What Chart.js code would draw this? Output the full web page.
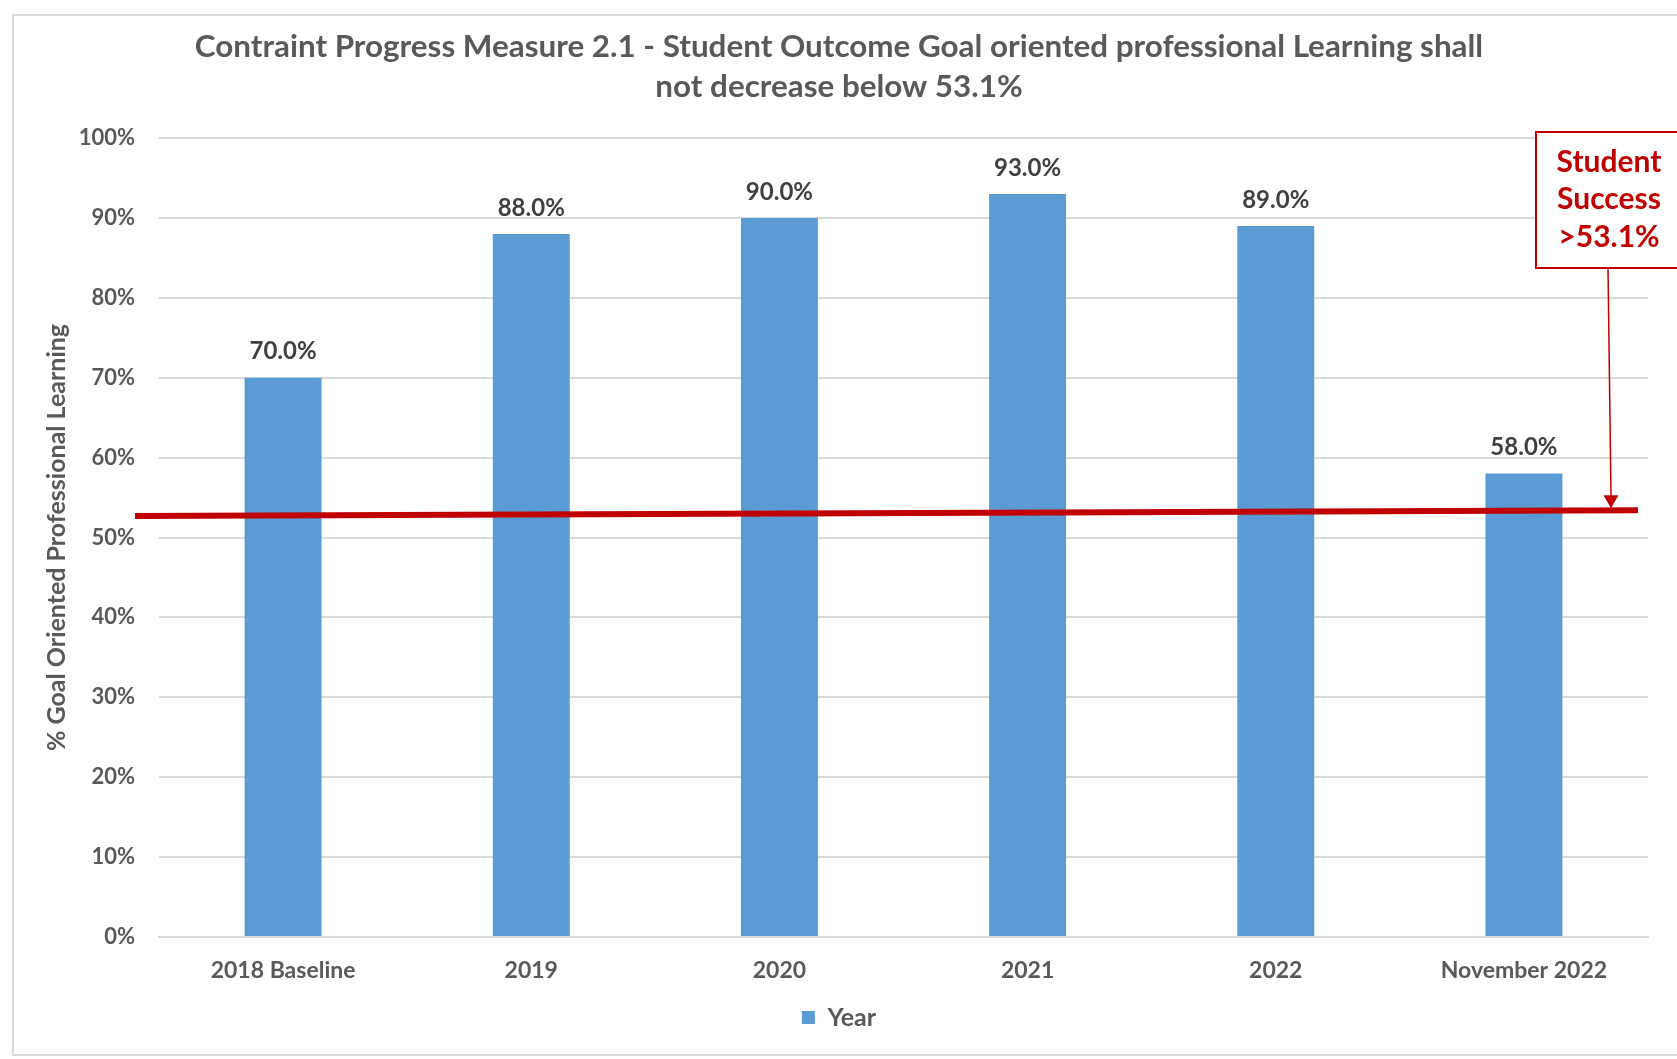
<!DOCTYPE html>
<html>
<head>
<meta charset="utf-8">
<script src="https://cdn.jsdelivr.net/npm/chart.js@4.4.1/dist/chart.umd.min.js"></script>
<style>
  html, body { margin: 0; padding: 0; background: #fff; }
  canvas { display: block; }
</style>
</head>
<body>
<canvas id="chart" width="1677" height="1059"></canvas>
<script>
const categories = ["2018 Baseline", "2019", "2020", "2021", "2022", "November 2022"];
const values = [70.0, 88.0, 90.0, 93.0, 89.0, 58.0];
const yTickValues = [0, 10, 20, 30, 40, 50, 60, 70, 80, 90, 100];
// the red target line is drawn slightly sloped in the original
const thresholdStart = 52.7;
const thresholdEnd = 53.4;
const calloutLines = ["Student", "Success", ">53.1%"];

const FONT = "Lato, 'Open Sans', sans-serif";
const GRAY = "#595959";
const RED = "#C00000";
const BLUE = "#5B9BD5";

const framePlugin = {
  id: "frame",
  beforeDraw(chart) {
    const ctx = chart.ctx;
    ctx.save();
    ctx.fillStyle = "#fff";
    ctx.fillRect(0, 0, chart.width, chart.height);
    ctx.strokeStyle = "#d9d9d9";
    ctx.lineWidth = 2;
    ctx.strokeRect(13, 15, chart.width + 20, chart.height - 19);
    ctx.restore();
  },
};

const overlayPlugin = {
  id: "overlay",
  afterDatasetsDraw(chart) {
    const ctx = chart.ctx;
    const y = chart.scales.y;
    const area = chart.chartArea;
    const meta = chart.getDatasetMeta(0);

    // value labels above bars
    ctx.save();
    ctx.fillStyle = "#404040";
    ctx.font = `bold 24px ${FONT}`;
    ctx.textAlign = "center";
    ctx.textBaseline = "middle";
    meta.data.forEach((bar, i) => {
      ctx.fillText(values[i].toFixed(1) + "%", bar.x, bar.y - 26);
    });
    ctx.restore();

    // threshold line
    const x0 = area.left - 24;
    const x1 = area.right - 10;
    ctx.save();
    ctx.strokeStyle = RED;
    ctx.lineWidth = 6;
    ctx.beginPath();
    ctx.moveTo(x0, y.getPixelForValue(thresholdStart));
    ctx.lineTo(x1, y.getPixelForValue(thresholdEnd));
    ctx.stroke();
    ctx.restore();

    // callout box with arrow
    const boxLeft = area.right - 112;
    const boxTop = y.getPixelForValue(100) - 6;
    const boxBottom = boxTop + 136;
    ctx.save();
    ctx.strokeStyle = RED;
    ctx.lineWidth = 2;
    ctx.fillStyle = "#fff";
    ctx.fillRect(boxLeft, boxTop, chart.width - boxLeft + 10, boxBottom - boxTop);
    ctx.strokeRect(boxLeft, boxTop, chart.width - boxLeft + 10, boxBottom - boxTop);

    ctx.fillStyle = RED;
    ctx.font = `bold 30px ${FONT}`;
    ctx.textAlign = "center";
    ctx.textBaseline = "middle";
    const cx = boxLeft + 73;
    calloutLines.forEach((t, i) => ctx.fillText(t, cx, boxTop + 30 + i * 37.5));

    const tipY = y.getPixelForValue(thresholdEnd) - 2;
    ctx.lineWidth = 1.5;
    ctx.beginPath();
    ctx.moveTo(cx - 1, boxBottom);
    ctx.lineTo(cx + 2, tipY - 12);
    ctx.stroke();
    ctx.beginPath();
    ctx.moveTo(cx + 2 - 7.5, tipY - 13);
    ctx.lineTo(cx + 2 + 7.5, tipY - 13);
    ctx.lineTo(cx + 2, tipY);
    ctx.closePath();
    ctx.fill();
    ctx.restore();
  },
};

new Chart(document.getElementById("chart"), {
  type: "bar",
  data: {
    labels: categories,
    datasets: [
      {
        label: "Year",
        data: values,
        backgroundColor: BLUE,
        borderWidth: 0,
        categoryPercentage: 1,
        barPercentage: 0.31,
      },
    ],
  },
  options: {
    responsive: false,
    animation: false,
    devicePixelRatio: 1,
    layout: { padding: { left: 30, right: 29, top: 0, bottom: 19 } },
    plugins: {
      title: {
        display: true,
        text: [
          "Contraint Progress Measure 2.1 - Student Outcome Goal oriented professional Learning shall",
          "not decrease below 53.1%",
        ],
        color: GRAY,
        font: { family: FONT, size: 31.4, weight: "bold", lineHeight: 40 / 31.4 },
        padding: { top: 27, bottom: 31 },
      },
      legend: {
        position: "bottom",
        labels: {
          color: GRAY,
          font: { family: FONT, size: 25, weight: "bold" },
          boxWidth: 13,
          boxHeight: 13,
          padding: 10,
        },
      },
      tooltip: { enabled: false },
    },
    scales: {
      x: {
        afterFit: (s) => { s.height = 58; },
        grid: { display: false },
        border: { color: "#d9d9d9", width: 2 },
        ticks: {
          color: GRAY,
          padding: 12,
          maxRotation: 0,
          font: { family: FONT, size: 23, weight: "bold" },
        },
      },
      y: {
        min: 0,
        max: 100,
        afterFit: (s) => { s.width = 129; },
        afterBuildTicks: (s) => { s.ticks = yTickValues.map((v) => ({ value: v })); },
        grid: { color: "#d9d9d9", lineWidth: 2, drawTicks: false },
        border: { display: false },
        ticks: {
          color: GRAY,
          padding: 24,
          callback: (v) => v + "%",
          font: { family: FONT, size: 22, weight: "bold" },
        },
        title: {
          display: true,
          text: "% Goal Oriented Professional Learning",
          color: GRAY,
          padding: { top: 12, bottom: 0 },
          font: { family: FONT, size: 25, weight: "bold" },
        },
      },
    },
  },
  plugins: [framePlugin, overlayPlugin],
});
</script>
</body>
</html>
